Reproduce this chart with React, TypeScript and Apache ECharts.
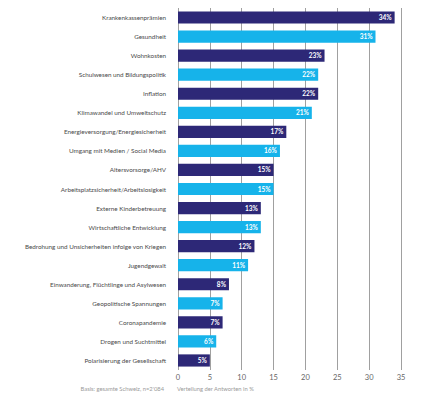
import React, { useEffect, useRef } from "react";
import * as echarts from "echarts";

const categories = [
  "Krankenkassenprämien",
  "Gesundheit",
  "Wohnkosten",
  "Schulwesen und Bildungspolitik",
  "Inflation",
  "Klimawandel und Umweltschutz",
  "Energieversorgung/Energiesicherheit",
  "Umgang mit Medien / Social Media",
  "Altersvorsorge/AHV",
  "Arbeitsplatzsicherheit/Arbeitslosigkeit",
  "Externe Kinderbetreuung",
  "Wirtschaftliche Entwicklung",
  "Bedrohung und Unsicherheiten infolge von Kriegen",
  "Jugendgewalt",
  "Einwanderung, Flüchtlinge und Asylwesen",
  "Geopolitische Spannungen",
  "Coronapandemie",
  "Drogen und Suchtmittel",
  "Polarisierung der Gesellschaft",
];

const values = [34, 31, 23, 22, 22, 21, 17, 16, 15, 15, 13, 13, 12, 11, 8, 7, 7, 6, 5];

const xTicks = [0, 5, 10, 15, 20, 25, 30, 35];

const basisNote = "Basis: gesamte Schweiz, n=2'084";
const axisNote = "Verteilung der Antworten in %";

const DARK = "#2d2877";
const LIGHT = "#16b3ea";
const FONT = "Lato, 'Open Sans', sans-serif";

export default function App() {
  const ref = useRef<HTMLDivElement>(null);

  useEffect(() => {
    if (!ref.current) return;
    const chart = echarts.init(ref.current, undefined, { renderer: "svg" });
    chart.setOption({
      animation: false,
      backgroundColor: "#ffffff",
      textStyle: { fontFamily: FONT },
      grid: { left: 178, right: 29, top: 8, bottom: 32, containLabel: false },
      xAxis: {
        type: "value",
        min: xTicks[0],
        max: xTicks[xTicks.length - 1],
        interval: 5,
        axisLine: { show: false },
        axisTick: { show: false },
        splitLine: { show: true, lineStyle: { color: "#a0a0a0", width: 1 } },
        axisLabel: { color: "#666666", fontSize: 7.5, margin: 3, fontFamily: FONT },
      },
      yAxis: {
        type: "category",
        data: categories,
        inverse: true,
        axisLine: { show: false },
        axisTick: { show: false },
        axisLabel: { color: "#4a4a4a", fontSize: 6.3, margin: 12, fontFamily: FONT },
      },
      series: [
        {
          type: "bar",
          data: values,
          barCategoryGap: "36%",
          itemStyle: {
            color: (p: any) => (p.dataIndex % 2 === 0 ? DARK : LIGHT),
          },
          label: {
            show: true,
            position: "insideRight",
            formatter: "{c}%",
            color: "#ffffff",
            fontWeight: "bold",
            fontSize: 6.5,
            distance: 3,
            fontFamily: FONT,
          },
        },
      ],
      graphic: [
        {
          type: "text",
          right: 430 - 164,
          top: 385,
          style: { text: basisNote, fill: "#9a9a9a", fontSize: 5.8, fontFamily: FONT },
        },
        {
          type: "text",
          left: 177,
          top: 385,
          style: { text: axisNote, fill: "#9a9a9a", fontSize: 5.8, fontFamily: FONT },
        },
      ],
    });
    return () => chart.dispose();
  }, []);

  return <div ref={ref} style={{ width: 430, height: 402, position: "absolute", left: 0, top: 0 }} />;
}
